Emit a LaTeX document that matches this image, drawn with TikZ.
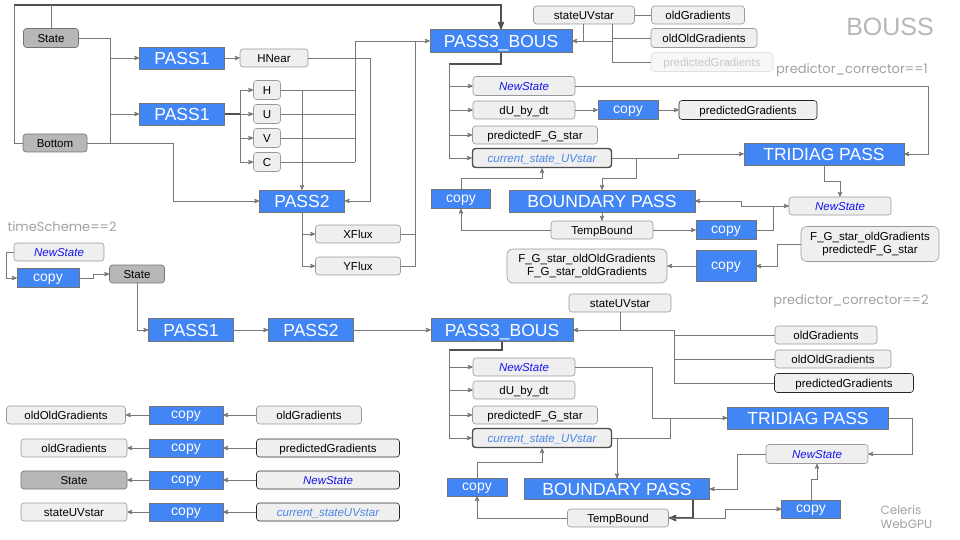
\documentclass[tikz,border=0pt]{standalone}
\usepackage{fontspec}
\setmainfont{Liberation Sans}
\newfontfamily\notefont{Poppins}
\usepackage{xcolor}
\usepackage{tikz}
\usetikzlibrary{arrows}
\usetikzlibrary{shapes}

\definecolor{passblue}{RGB}{66,133,244}
\definecolor{boxgray}{RGB}{239,239,239}
\definecolor{stategray}{RGB}{183,183,183}
\definecolor{linegray}{RGB}{120,120,120}
\definecolor{darkline}{RGB}{80,80,80}
\definecolor{newblue}{RGB}{20,20,240}
\definecolor{curblue}{RGB}{74,134,232}
\definecolor{notegray}{RGB}{160,160,160}

\tikzset{
  sz/.style 2 args={minimum width=#1, minimum height=#2},
  pass/.style={draw=black!55, fill=passblue, text=white, inner sep=0pt, text height=12.5pt, text depth=0pt, font=\fontsize{17.5}{17.5}\selectfont},
  copybox/.style={pass, text height=7.3pt, text depth=0pt, font=\fontsize{14}{14}\selectfont},
  lbox/.style={draw=black!40, fill=boxgray, rounded corners=3pt, inner sep=0pt, line width=0.6pt, text height=8.2pt, text depth=0pt, font=\fontsize{11.5}{11.5}\selectfont},
  twoline/.style={align=center, rounded corners=6pt, text height=, text depth=, font=\fontsize{11.5}{13.5}\selectfont},
  darkbox/.style={lbox, draw=black!55, fill=stategray},
  edgebox/.style={lbox, draw=black!85},
  curbox/.style={lbox, draw=black!70, line width=1.4pt},
  fadebox/.style={lbox, draw=black!12, fill=black!3, text=black!22},
  newst/.style={text=newblue, font=\fontsize{11.5}{11.5}\selectfont\itshape},
  curst/.style={text=curblue, font=\fontsize{11.5}{11.5}\selectfont\itshape},
  note/.style={text=notegray, font=\notefont\fontsize{13}{15}\selectfont},
  conn/.style={draw=linegray, line width=0.8pt, >=stealth'},
  thickconn/.style={conn, draw=darkline, line width=1.6pt},
}

\begin{document}
\begin{tikzpicture}[x=1pt, y=-1pt]
\useasboundingbox (0,0) rectangle (960,540);

\node[darkbox, sz={55}{19}] (st1) at (51,38) {State};
\node[darkbox, sz={64}{18}] (bot) at (55,143) {Bottom};
\node[pass, sz={85}{22}] (p1a) at (182,58) {PASS1};
\node[pass, sz={85}{22}] (p1b) at (182,114) {PASS1};
\node[lbox, sz={68}{18}] (hnear) at (274,58) {HNear};
\node[lbox, sz={27}{19}] (nh) at (267,90) {H};
\node[lbox, sz={27}{19}] (nu) at (267,114) {U};
\node[lbox, sz={27}{19}] (nv) at (267,138) {V};
\node[lbox, sz={27}{19}] (nc) at (267,162) {C};
\node[pass, sz={85}{22}] (p2a) at (302,201) {PASS2};
\node[lbox, sz={85}{18}] (xflux) at (358,234) {XFlux};
\node[lbox, sz={85}{18}] (yflux) at (358,266) {YFlux};
\node[note, anchor=west] (ts) at (4,227) {timeScheme==2};
\node[lbox, newst, sz={90}{18}] (ns0) at (59,252) {NewState};
\node[copybox, sz={62}{19}] (cp0) at (48,278) {copy};
\node[darkbox, sz={55}{18}] (st2) at (137,274) {State};

\node[pass, sz={142}{23}] (p3a) at (501,41) {PASS3\_BOUS};
\node[lbox, sz={101}{18}] (suv1) at (584,15) {stateUVstar};
\node[lbox, sz={93}{18}] (og1) at (698,15) {oldGradients};
\node[lbox, sz={106}{19}] (oog1) at (704,38) {oldOldGradients};
\node[fadebox, sz={122}{19}] (pg1) at (712,62) {predictedGradients};
\node[text=stategray, font=\fontsize{25}{25}\selectfont] (bouss) at (890,27) {BOUSS};
\node[note] (pc1) at (852,70) {predictor\_corrector==1};
\node[lbox, newst, sz={102}{19}] (ns1) at (524,86) {NewState};
\node[lbox, sz={102}{18}] (du1) at (524,110) {dU\_by\_dt};
\node[copybox, sz={60}{19}] (cpa) at (628,110) {copy};
\node[edgebox, sz={138}{19}] (pgb) at (748,110) {predictedGradients};
\node[lbox, sz={125}{18}] (pf1) at (535,135) {predictedF\_G\_star};
\node[curbox, curst, sz={139}{19}] (cur1) at (542,158) {current\_state\_UVstar};
\node[pass, sz={160}{22}] (tri1) at (824,154) {TRIDIAG PASS};
\node[copybox, sz={59}{19}] (cpb) at (461,199) {copy};
\node[pass, sz={186}{22}] (bnd1) at (602,201) {BOUNDARY PASS};
\node[lbox, newst, sz={102}{18}] (ns2) at (840,206) {NewState};
\node[lbox, sz={102}{18}] (tb1) at (602,230) {TempBound};
\node[copybox, sz={60}{19}] (cpc) at (726,230) {copy};
\node[lbox, twoline, sz={138}{35}] (fgs1) at (870,244) {F\_G\_star\_oldGradients\\predictedF\_G\_star};
\node[copybox, sz={60}{31}] (cpd) at (726,266) {copy};
\node[lbox, twoline, sz={160}{34}] (fgs2) at (587,266) {F\_G\_star\_oldOldGradients\\F\_G\_star\_oldGradients};

\node[pass, sz={85}{23}] (p1c) at (191,330) {PASS1};
\node[pass, sz={85}{23}] (p2b) at (311,330) {PASS2};
\node[pass, sz={142}{23}] (p3b) at (502,330) {PASS3\_BOUS};
\node[lbox, sz={102}{18}] (suv2) at (620,303) {stateUVstar};
\node[note] (pc2) at (851,301) {predictor\_corrector==2};
\node[lbox, sz={102}{18}] (og2) at (826,335) {oldGradients};
\node[lbox, sz={116}{18}] (oog2) at (833,359) {oldOldGradients};
\node[edgebox, sz={139}{19}] (pg2) at (844,383) {predictedGradients};
\node[lbox, newst, sz={102}{18}] (ns3) at (524,367) {NewState};
\node[lbox, sz={102}{18}] (du2) at (524,390) {dU\_by\_dt};
\node[lbox, sz={125}{18}] (pf2) at (535,415) {predictedF\_G\_star};
\node[curbox, curst, sz={139}{19}] (cur2) at (542,438) {current\_state\_UVstar};
\node[pass, sz={161}{22}] (tri2) at (808,418) {TRIDIAG PASS};
\node[lbox, newst, sz={102}{19}] (ns4) at (817,454) {NewState};
\node[copybox, sz={60}{18}] (cpe) at (477,487) {copy};
\node[pass, sz={185}{21}] (bnd2) at (617,489) {BOUNDARY PASS};
\node[lbox, sz={101}{18}] (tb2) at (618,518) {TempBound};
\node[copybox, sz={59}{18}] (cpf) at (811,509) {copy};
\node[note, align=left, anchor=west, font=\notefont\fontsize{12}{14}\selectfont] (cel) at (877,517) {Celeris\\WebGPU};

\node[lbox, sz={119}{18}] (r1dst) at (66,415) {oldOldGradients};
\node[copybox, sz={74}{18}] (r1cp) at (186,415) {copy};
\node[lbox, sz={105}{18}] (r1src) at (309,415) {oldGradients};
\node[lbox, sz={106}{18}] (r2dst) at (74,448) {oldGradients};
\node[copybox, sz={74}{18}] (r2cp) at (186,448) {copy};
\node[edgebox, sz={143}{18}] (r2src) at (328,448) {predictedGradients};
\node[darkbox, sz={106}{18}] (r3dst) at (74,480) {State};
\node[copybox, sz={74}{18}] (r3cp) at (186,480) {copy};
\node[edgebox, newst, sz={143}{18}] (r3src) at (328,480) {NewState};
\node[lbox, sz={106}{18}] (r4dst) at (74,512) {stateUVstar};
\node[copybox, sz={74}{18}] (r4cp) at (186,512) {copy};
\node[edgebox, curst, sz={143}{18}] (r4src) at (328,512) {current\_stateUVstar};

\coordinate (topL) at (14,5);
\coordinate (j1) at (110,143);
\coordinate (j3) at (240,114);
\coordinate (j4) at (355,41);
\coordinate (j5) at (415,41);
\coordinate (j6) at (612,41);
\coordinate (j7) at (583,41);
\coordinate (j8) at (449,64);
\coordinate (j9) at (674,330);
\coordinate (j10) at (449,350);

\draw[conn] (bot.west) -| (topL);
\draw[thickconn, ->] (topL) -| (p3a.north);
\draw[conn] (st1.north) -- (st1.north |- topL);
\draw[conn] (st1.east) -| (j1) -- (bot.east);
\draw[conn, ->] (p1a.west -| j1) -- (p1a.west);
\draw[conn, ->] (p1b.west -| j1) -- (p1b.west);
\draw[conn, ->] (bot.east) -- ++(86,0) |- (p2a.west);
\draw[conn, ->] (p1a) -- (hnear);
\draw[conn, ->] (hnear.east) -- ++(62,0) |- (p2a.east);
\draw[thickconn] (p1b) -- (j3);
\draw[conn] (j3 |- nh) -- (j3 |- nc);
\draw[conn, ->] (j3 |- nh) -- (nh.west);
\draw[conn, ->] (j3) -- (nu.west);
\draw[conn, ->] (j3 |- nv) -- (nv.west);
\draw[conn, ->] (j3 |- nc) -- (nc.west);
\draw[conn, ->] (nh.east) -| (p2a.north);
\draw[conn] (nh.east) -- (nh.east -| j4);
\draw[conn] (nu.east) -- (nu.east -| j4);
\draw[conn] (nv.east) -- (nv.east -| j4);
\draw[conn] (nc.east) -- (nc.east -| j4);
\draw[conn] (j4 |- nc) -- (j4);
\draw[conn] (xflux.east) -| (j5);
\draw[conn] (yflux.east) -| (j5);
\draw[conn, ->] (j4) -- (p3a.west);
\draw[conn, ->] (p2a.south) |- (yflux.west);
\draw[conn, ->] (p2a.south |- xflux.west) -- (xflux.west);

\draw[conn] (og1) -- (suv1);
\draw[conn, ->] (j6) -- (p3a.east);
\draw[conn] (suv1.south -| j6) |- (pg1.west);
\draw[conn] (oog1.west) -- (oog1.west -| j6);
\draw[conn] (suv1.south -| j7) -- (j7);
\draw[thickconn] (p3a.south) |- (j8);
\draw[conn, ->] (j8) |- (cur1.west);
\draw[conn, ->] (j8 |- ns1.west) -- (ns1.west);
\draw[conn, ->] (j8 |- du1.west) -- (du1.west);
\draw[conn, ->] (j8 |- pf1.west) -- (pf1.west);
\draw[conn, ->] (ns1.east) -- ++(353,0) |- (tri1.east);
\draw[conn, ->] (du1) -- (cpa);
\draw[conn, ->] (cpa) -- (pgb);
\draw[conn, ->] (cur1.east) -- ++(66,0) |- (tri1.west);
\draw[conn, ->] ([xshift=24pt]cur1.east) -- ++(0,20) -| (bnd1.north);
\draw[conn, ->] (tri1.south) -- ++(0,16) -| (ns2.north);
\draw[conn, ->] (ns2.west) -- ++(-47,0) |- (bnd1.east);
\draw[conn, ->] (cpc.east) -- ++(17,0) |- (ns2.west);
\draw[conn, ->] (bnd1) -- (tb1);
\draw[conn, ->] (tb1) -- (cpc);
\draw[conn, ->] (tb1.west) -| (cpb.south);
\draw[conn, ->] (cpb.north) -- ++(0,-11) -| (cur1.south);
\draw[conn, ->] (fgs1.west) -- ++(-23,0) |- (cpd.east);
\draw[conn, ->] (cpd) -- (fgs2);

\draw[conn, ->] (ns0.west) -- ++(-7,0) |- (cp0.west);
\draw[conn, ->] (cp0.east) -- ++(14,0) |- (st2.west);
\draw[conn, ->] (st2.south) |- (p1c.west);
\draw[conn, ->] (p1c) -- (p2b);
\draw[conn, ->] (p2b) -- (p3b);

\draw[conn, ->] (j9) -- (p3b.east);
\draw[conn] (suv2.south) -- (suv2.south |- j9);
\draw[conn] (og2.west) -| (j9);
\draw[conn] (pg2.west) -| (j9);
\draw[conn] (oog2.west) -- (oog2.west -| j9);
\draw[thickconn] (p3b.south) |- (j10);
\draw[conn, ->] (j10) |- (cur2.west);
\draw[conn, ->] (j10 |- ns3.west) -- (ns3.west);
\draw[conn, ->] (j10 |- du2.west) -- (du2.west);
\draw[conn, ->] (j10 |- pf2.west) -- (pf2.west);
\draw[conn, ->] (ns3.east) -- ++(77,0) |- (tri2.west);
\draw[conn] (cur2.east) -- ++(58,0) -- ++(0,-20);
\draw[conn, ->] (cur2.east) -| (bnd2.north);
\draw[conn, ->] (tri2.east) -- ++(24,0) |- (ns4.east);
\draw[conn, ->] (ns4.west) -- ++(-28,0) |- (bnd2.east);
\draw[conn, ->] (cpf.north) -- ++(0,-20) -| (ns4.south);
\draw[thickconn, ->] ([xshift=-17pt]bnd2.south east) |- (tb2.east);
\draw[conn, ->] (tb2.east) -- ++(57,0) |- (cpf.west);
\draw[conn, ->] (tb2.west) -| (cpe.south);
\draw[conn, ->] (cpe.north) -- ++(0,-15) -| (cur2.south);

\draw[conn, ->] (r1src) -- (r1cp);
\draw[conn, ->] (r1cp) -- (r1dst);
\draw[conn, ->] (r2src) -- (r2cp);
\draw[conn, ->] (r2cp) -- (r2dst);
\draw[conn, ->] (r3src) -- (r3cp);
\draw[conn, ->] (r3cp) -- (r3dst);
\draw[conn, ->] (r4src) -- (r4cp);
\draw[conn, ->] (r4cp) -- (r4dst);
\end{tikzpicture}
\end{document}
